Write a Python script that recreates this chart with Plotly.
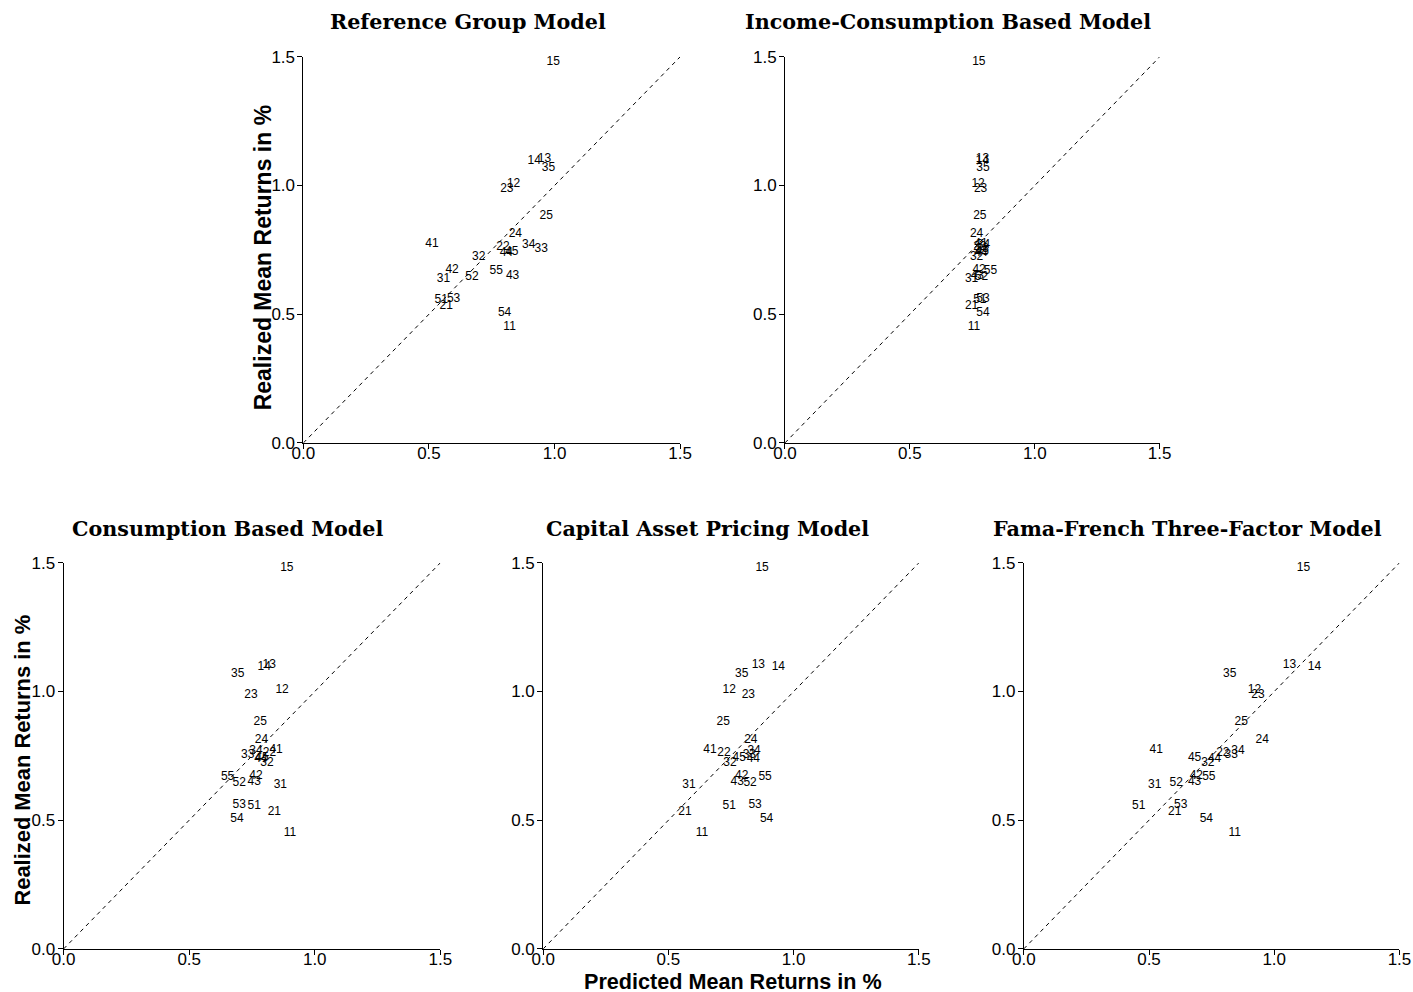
import plotly.graph_objects as go

# Empirical mapping between figure pixels and the photographed picture
# (the photo shows the figure slightly scaled and inset).
SX, SY = 0.984, 0.981
CX, CY = 11.5, 9.3
W, H = 1422, 1000

portfolios = ["11", "12", "13", "14", "15", "21", "22", "23", "24", "25",
              "31", "32", "33", "34", "35", "41", "42", "43", "44", "45",
              "51", "52", "53", "54", "55"]

realized = [0.450, 1.005, 1.105, 1.095, 1.480, 0.533, 0.763, 0.987, 0.811, 0.882,
            0.635, 0.723, 0.753, 0.770, 1.070, 0.772, 0.673, 0.647, 0.736, 0.741,
            0.555, 0.643, 0.559, 0.505, 0.666]

pred_reference_group = [0.821, 0.837, 0.960, 0.919, 0.995, 0.569, 0.795, 0.810, 0.844, 0.967,
                        0.558, 0.698, 0.947, 0.897, 0.976, 0.512, 0.592, 0.833, 0.808, 0.830,
                        0.549, 0.671, 0.598, 0.801, 0.768]

pred_income_consumption = [0.757, 0.773, 0.791, 0.790, 0.776, 0.747, 0.780, 0.783, 0.767, 0.780,
                           0.747, 0.767, 0.790, 0.795, 0.793, 0.785, 0.777, 0.770, 0.785, 0.790,
                           0.780, 0.787, 0.793, 0.793, 0.823]

pred_consumption = [0.901, 0.870, 0.819, 0.799, 0.889, 0.839, 0.820, 0.746, 0.788, 0.783,
                    0.863, 0.810, 0.733, 0.766, 0.693, 0.846, 0.766, 0.759, 0.786, 0.790,
                    0.759, 0.699, 0.699, 0.690, 0.653]

pred_capm = [0.634, 0.743, 0.859, 0.939, 0.874, 0.566, 0.722, 0.819, 0.829, 0.719,
             0.582, 0.746, 0.823, 0.842, 0.793, 0.666, 0.793, 0.775, 0.839, 0.783,
             0.743, 0.826, 0.846, 0.892, 0.886]

pred_ff3 = [0.842, 0.921, 1.061, 1.161, 1.117, 0.603, 0.795, 0.935, 0.952, 0.868,
            0.523, 0.735, 0.828, 0.855, 0.822, 0.529, 0.689, 0.682, 0.762, 0.682,
            0.459, 0.609, 0.627, 0.729, 0.739]

titles = ["Reference Group Model", "Income-Consumption Based Model",
          "Consumption Based Model", "Capital Asset Pricing Model",
          "Fama-French Three-Factor Model"]
preds = [pred_reference_group, pred_income_consumption, pred_consumption, pred_capm, pred_ff3]

tick_vals = [0.0, 0.5, 1.0, 1.5]
diag = [0.0, 1.5]

# panel boxes in picture pixels: (x0, x1, ytop, ybottom)
boxes = [(303, 680, 57, 443), (785, 1160, 57, 443),
         (63, 440, 563, 949), (543, 919, 563, 949), (1024, 1400, 563, 949)]

def px(X):
    return (X / SX - CX) / W

def py(Y):
    return 1 - (Y / SY - CY) / H

fig = go.Figure()
annotations = []
tickfont = dict(family="Liberation Sans, Arial", size=17, color="black")
for i, (t, p, b) in enumerate(zip(titles, preds, boxes)):
    k = "" if i == 0 else str(i + 1)
    xa, ya = "x" + k, "y" + k
    fig.add_trace(go.Scatter(x=diag, y=diag, mode="lines",
                             line=dict(color="black", width=1, dash="4px,4px"),
                             xaxis=xa, yaxis=ya, showlegend=False, hoverinfo="skip"))
    fig.add_trace(go.Scatter(x=p, y=realized, mode="text", text=portfolios,
                             textposition="middle center",
                             textfont=dict(family="Liberation Sans, Arial", size=12, color="black"),
                             xaxis=xa, yaxis=ya, showlegend=False, cliponaxis=False))
    axcommon = dict(range=[0, 1.5], tickvals=tick_vals, tickformat=".1f",
                    showline=True, linecolor="black", linewidth=1,
                    ticks="outside", ticklen=5, tickcolor="black", tickwidth=1,
                    showgrid=False, zeroline=False, tickfont=tickfont)
    fig.layout["xaxis" + k] = dict(domain=[px(b[0]), px(b[1])], anchor=ya,
                                   ticklabelstandoff=-10, **axcommon)
    fig.layout["yaxis" + k] = dict(domain=[py(b[3]), py(b[2])], anchor=xa,
                                   ticklabelstandoff=-1, **axcommon)
    cx = (b[0] + b[1]) / 2 - 24
    ty = 22 if b[2] < 100 else 529
    annotations.append(dict(text="<b>" + t + "</b>", x=px(cx), y=py(ty), xref="paper", yref="paper",
                            showarrow=False, xanchor="center", yanchor="middle",
                            font=dict(family="DejaVu Serif", size=20.7, color="black")))

annotations.append(dict(text="<b>Realized Mean Returns in %</b>", x=px(262), y=py(258),
                        xref="paper", yref="paper", showarrow=False, textangle=-90,
                        xanchor="center", yanchor="middle",
                        font=dict(family="Liberation Sans, Arial", size=23, color="black")))
annotations.append(dict(text="<b>Realized Mean Returns in %</b>", x=px(22), y=py(760),
                        xref="paper", yref="paper", showarrow=False, textangle=-90,
                        xanchor="center", yanchor="middle",
                        font=dict(family="Liberation Sans, Arial", size=21.9, color="black")))
annotations.append(dict(text="<b>Predicted Mean Returns in %</b>", x=px(733), y=py(982),
                        xref="paper", yref="paper", showarrow=False,
                        xanchor="center", yanchor="middle",
                        font=dict(family="Liberation Sans, Arial", size=21.6, color="black")))

fig.update_layout(width=W, height=H, margin=dict(l=0, r=0, t=0, b=0),
                  plot_bgcolor="white", paper_bgcolor="white",
                  annotations=annotations, showlegend=False)

fig.write_html("out.html")
